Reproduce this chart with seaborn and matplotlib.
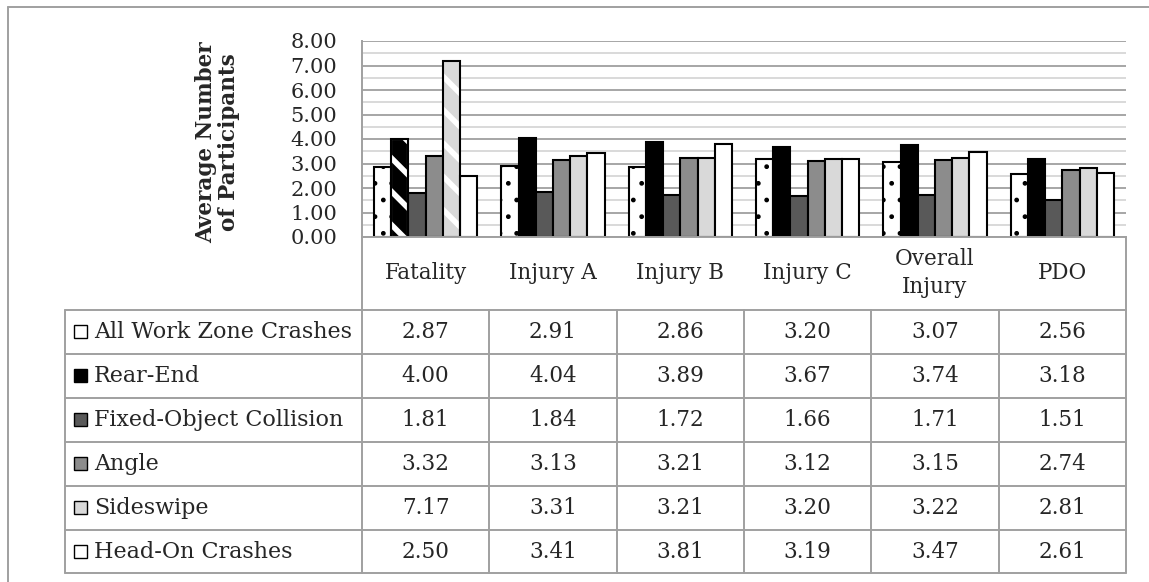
import numpy as np
import pandas as pd
import seaborn as sns
import matplotlib.pyplot as plt
from matplotlib.patches import Rectangle
from matplotlib.lines import Line2D
from matplotlib.transforms import blended_transform_factory

# Dane wykresu
categories = ["Fatality", "Injury A", "Injury B", "Injury C", "Overall\nInjury", "PDO"]
series = [
    "All Work Zone Crashes",
    "Rear-End",
    "Fixed-Object Collision",
    "Angle",
    "Sideswipe",
    "Head-On Crashes",
]
all_work_zone = [2.87, 2.91, 2.86, 3.20, 3.07, 2.56]
rear_end = [4.00, 4.04, 3.89, 3.67, 3.74, 3.18]
fixed_object = [1.81, 1.84, 1.72, 1.66, 1.71, 1.51]
angle = [3.32, 3.13, 3.21, 3.12, 3.15, 2.74]
sideswipe = [7.17, 3.31, 3.21, 3.20, 3.22, 2.81]
head_on = [2.50, 3.41, 3.81, 3.19, 3.47, 2.61]
y_ticks = [0, 1, 2, 3, 4, 5, 6, 7, 8]

values = [all_work_zone, rear_end, fixed_object, angle, sideswipe, head_on]
colors = ["#ffffff", "#000000", "#595959", "#8c8c8c", "#d9d9d9", "#ffffff"]

rows = []
for name, vals in zip(series, values):
    for cat, v in zip(categories, vals):
        rows.append({"Category": cat, "Series": name, "Value": v})
df = pd.DataFrame(rows)

sns.set_style("white")
plt.rcParams["font.family"] = ["DejaVu Serif"]
plt.rcParams["hatch.linewidth"] = 1.0

W, H = 1149, 582
fig = plt.figure(figsize=(W / 100, H / 100), dpi=100)


def fx(px):
    return px / W


def fy(py):
    return 1 - py / H


GRID = "#a6a6a6"
LINE = "#a0a0a0"
EDGE_LW = 1.5

ax = fig.add_axes([fx(362), fy(237), fx(1126) - fx(362), fy(41) - fy(237)])
sns.barplot(
    data=df,
    x="Category",
    y="Value",
    hue="Series",
    palette=colors,
    width=0.81,
    edgecolor="black",
    linewidth=EDGE_LW,
    legend=False,
    ax=ax,
)

# Wzory wypełnienia
for bar in ax.containers[0]:
    bar.set_hatch(".")

for idx in (1, 4):
    bar = ax.containers[idx][0]
    bar.set_hatch("\\")
    bar.set_edgecolor("white")
    if hasattr(bar, "set_hatch_linewidth"):
        bar.set_hatch_linewidth(4.0)
    ax.add_patch(
        Rectangle(
            (bar.get_x(), bar.get_y()),
            bar.get_width(),
            bar.get_height(),
            fill=False,
            edgecolor="black",
            linewidth=EDGE_LW,
            zorder=bar.get_zorder() + 0.1,
        )
    )

# Osie i siatka
ax.set_xlim(-0.5, len(categories) - 0.5)
ax.set_ylim(0, 8)
ax.set_yticks(y_ticks)
ax.set_yticks(np.arange(0.5, 8, 1), minor=True)
ax.set_yticklabels([f"{t:.2f}" for t in y_ticks], fontsize=15)
ax.yaxis.grid(True, which="major", color=GRID, linewidth=1.4)
ax.yaxis.grid(True, which="minor", color="#d9d9d9", linewidth=1.4)
ax.set_axisbelow(True)
ax.tick_params(axis="y", which="major", length=7, color=LINE, width=1.2, pad=11)
ax.tick_params(axis="y", which="minor", length=0)
ax.tick_params(axis="x", length=0, labelbottom=False)
ax.set_xlabel("")
ax.set_ylabel("")
for side in ("top", "right"):
    ax.spines[side].set_visible(False)
for side in ("left", "bottom"):
    ax.spines[side].set_color(LINE)
    ax.spines[side].set_linewidth(1.4)

fig.text(
    fx(218), fy(142),
    "Average Number\nof Participants",
    rotation=90, ha="center", va="center", multialignment="center",
    fontsize=15.5, fontweight="bold", linespacing=1.05,
)


# Tabela danych
def hline(y, x0, x1):
    fig.add_artist(Line2D([fx(x0), fx(x1)], [fy(y), fy(y)], color=LINE, lw=1.4,
                          transform=fig.transFigure))


def vline(x, y0, y1):
    fig.add_artist(Line2D([fx(x), fx(x)], [fy(y0), fy(y1)], color=LINE, lw=1.4,
                          transform=fig.transFigure))


row_edges = [310, 354, 398, 442, 486, 530, 573]
for y in row_edges:
    hline(y, 65, 1126)
vline(65, 310, 573)
vline(362, 237, 573)
vline(1126, 237, 573)

mixed = blended_transform_factory(ax.transData, fig.transFigure)
for i in range(1, len(categories)):
    fig.add_artist(Line2D([i - 0.5, i - 0.5], [fy(310), fy(573)], color=LINE, lw=1.4,
                          transform=mixed))

for i, cat in enumerate(categories):
    fig.text(i, fy(273), cat, transform=mixed, ha="center", va="center",
             multialignment="center", fontsize=15.5, linespacing=1.3)

for r, (name, vals, col) in enumerate(zip(series, values, colors)):
    yc = (row_edges[r] + row_edges[r + 1]) / 2
    fig.add_artist(Rectangle((fx(74), fy(yc + 6)), fx(13), fy(yc - 7) - fy(yc + 6),
                             facecolor=col, edgecolor="black", lw=1.0,
                             transform=fig.transFigure))
    fig.text(fx(94), fy(yc), name, ha="left", va="center", fontsize=16)
    for i, v in enumerate(vals):
        fig.text(i, fy(yc), f"{v:.2f}", transform=mixed, ha="center", va="center",
                 fontsize=15.5)

# Ramka wykresu
hline(7, 8, W)
vline(8, 7, H)

plt.savefig("out.png", dpi=100)
